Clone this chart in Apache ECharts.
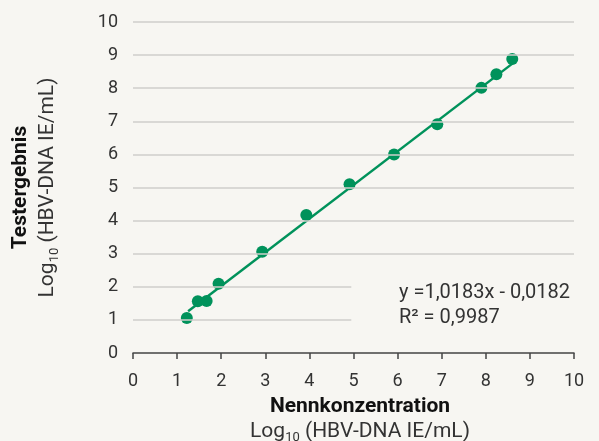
<!DOCTYPE html>
<html>
<head>
<meta charset="utf-8">
<script src="https://cdn.jsdelivr.net/npm/echarts@6/dist/echarts.min.js"></script>
<style>
  html, body { margin: 0; padding: 0; background: #f7f6f2; }
  #chart { width: 599px; height: 441px; }
</style>
</head>
<body>
<div id="chart"></div>
<script>
// Nennkonzentration (x) vs. Testergebnis (y), both Log10
var nominal = [1.22, 1.47, 1.67, 1.94, 2.93, 3.93, 4.91, 5.92, 6.90, 7.90, 8.24, 8.60];
var measured = [1.06, 1.56, 1.57, 2.09, 3.06, 4.17, 5.10, 6.00, 6.91, 8.01, 8.42, 8.88];
// regression line end points as drawn
var fitX = [1.25, 8.61];
var fitY = [1.26, 8.75];
// horizontal gridlines and where each one stops (1 and 2 stop under the equation)
var gridValues = [1, 2, 3, 4, 5, 6, 7, 8, 9, 10];
var gridStops = [4.95, 4.95, 10, 10, 10, 10, 10, 10, 10, 10];
var equation = ['y =1,0183x - 0,0182', 'R\u00b2 = 0,9987'];

var green = '#00925b';
var font = 'Roboto, "Noto Sans", sans-serif';

var points = nominal.map(function (x, i) { return [x, measured[i]]; });
var fit = fitX.map(function (x, i) { return [x, fitY[i]]; });
var gridLines = gridValues.map(function (v, i) {
    return [{ coord: [0, v] }, { coord: [gridStops[i], v] }];
});

function titleRich(lh) {
    return {
        b: { fontSize: 21, fontWeight: 'bold', color: '#111', fontFamily: font, lineHeight: lh },
        n: { fontSize: 21, color: '#333', fontFamily: font, lineHeight: lh },
        s: { fontSize: 13, color: '#333', fontFamily: font, lineHeight: lh, verticalAlign: 'bottom', padding: [7, 0, 0, 0] }
    };
}

var chart = echarts.init(document.getElementById('chart'));
var option = {
    backgroundColor: '#f7f6f2',
    textStyle: { fontFamily: font },
    animation: false,
    grid: { left: 133, right: 25, top: 22, bottom: 88, outerBoundsMode: 'none' },
    xAxis: {
        type: 'value',
        min: 0, max: 10, interval: 1,
        axisLine: { lineStyle: { color: '#444', width: 1.5 } },
        axisTick: { show: true, length: 6, lineStyle: { color: '#444', width: 1.5 } },
        axisLabel: { color: '#333', fontSize: 18, margin: 19, fontFamily: font },
        splitLine: { show: false },
        name: '{b|Nennkonzentration}\n{n|Log}{s|10}{n| (HBV-DNA IE/mL)}',
        nameLocation: 'middle',
        nameGap: 41,
        nameTextStyle: {
            padding: [0, 0, 0, 13],
            rich: titleRich(25)
        }
    },
    yAxis: {
        type: 'value',
        min: 0, max: 10, interval: 1,
        axisLine: { show: false },
        axisTick: { show: false },
        axisLabel: { color: '#333', fontSize: 18, margin: 15, fontFamily: font },
        splitLine: { show: false },
        name: '{b|Testergebnis}\n{n|Log}{s|10}{n| (HBV-DNA IE/mL)}',
        nameLocation: 'middle',
        nameGap: 72,
        nameRotate: 90,
        nameTextStyle: {
            rich: titleRich(27)
        }
    },
    graphic: [{
        type: 'text',
        left: 399,
        top: 281,
        style: {
            text: equation.join('\n'),
            fill: '#333',
            fontSize: 20,
            lineHeight: 24.5,
            fontFamily: font
        }
    }],
    series: [
        {
            type: 'line',
            data: [],
            silent: true,
            markLine: {
                silent: true,
                symbol: 'none',
                label: { show: false },
                lineStyle: { color: '#cfcecb', width: 1.5, type: 'solid' },
                data: gridLines
            },
            z: 1
        },
        {
            type: 'line',
            data: fit,
            symbol: 'none',
            lineStyle: { color: green, width: 2.5 },
            z: 2
        },
        {
            type: 'scatter',
            data: points,
            symbolSize: 12,
            itemStyle: { color: green, opacity: 1 },
            z: 3
        }
    ]
};
chart.setOption(option);
</script>
</body>
</html>
